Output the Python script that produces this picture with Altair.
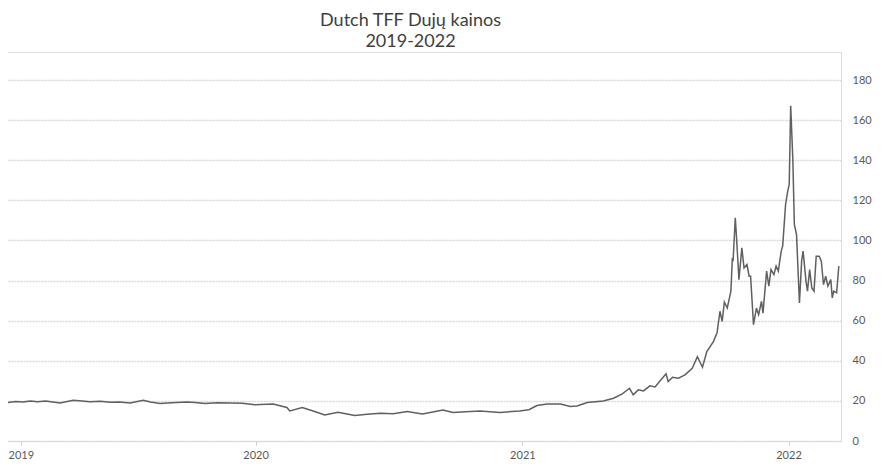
import altair as alt
import pandas as pd

# Dutch TTF gas price (EUR/MWh)
dates = [
    "2019-01-23", "2019-02-06", "2019-02-16", "2019-02-26", "2019-03-08", "2019-03-19",
    "2019-03-29", "2019-04-08", "2019-04-26", "2019-05-08", "2019-05-19", "2019-06-02",
    "2019-06-16", "2019-06-28", "2019-07-13", "2019-07-31", "2019-08-10", "2019-08-23",
    "2019-09-08", "2019-09-29", "2019-10-10", "2019-10-24", "2019-11-10", "2019-11-27",
    "2019-12-14", "2019-12-31", "2020-01-25", "2020-02-13", "2020-02-17", "2020-03-05",
    "2020-03-20", "2020-04-05", "2020-04-23", "2020-05-16", "2020-06-02", "2020-06-20",
    "2020-07-08", "2020-07-27", "2020-08-17", "2020-09-14", "2020-09-28", "2020-10-15",
    "2020-11-04", "2020-12-01", "2020-12-28", "2021-01-10", "2021-01-21", "2021-02-04",
    "2021-02-22", "2021-03-08", "2021-03-17", "2021-03-31", "2021-04-22", "2021-05-06",
    "2021-05-18", "2021-05-28", "2021-06-02", "2021-06-09", "2021-06-16", "2021-06-25",
    "2021-07-02", "2021-07-09", "2021-07-17", "2021-07-20", "2021-07-26", "2021-08-03",
    "2021-08-12", "2021-08-22", "2021-08-29", "2021-09-05", "2021-09-11", "2021-09-20",
    "2021-09-25", "2021-09-29", "2021-10-02", "2021-10-05", "2021-10-09", "2021-10-14",
    "2021-10-16", "2021-10-17", "2021-10-20", "2021-10-22", "2021-10-25", "2021-10-29",
    "2021-11-01", "2021-11-05", "2021-11-08", "2021-11-10", "2021-11-14", "2021-11-18",
    "2021-11-21", "2021-11-25", "2021-11-27", "2021-12-02", "2021-12-05", "2021-12-08",
    "2021-12-12", "2021-12-15", "2021-12-18", "2021-12-22", "2021-12-24", "2021-12-28",
    "2021-12-31", "2022-01-02", "2022-01-04", "2022-01-07", "2022-01-09", "2022-01-12",
    "2022-01-16", "2022-01-19", "2022-01-21", "2022-01-25", "2022-01-27", "2022-01-30",
    "2022-02-02", "2022-02-05", "2022-02-08", "2022-02-12", "2022-02-15", "2022-02-18",
    "2022-02-21", "2022-02-24", "2022-02-28", "2022-03-02", "2022-03-04", "2022-03-08",
    "2022-03-11",
]
prices = [
    19.0, 19.7, 19.4, 19.9, 19.6, 20.0,
    19.5, 19.0, 20.3, 19.9, 19.6, 19.8,
    19.3, 19.5, 19.0, 20.3, 19.4, 18.7,
    19.1, 19.5, 19.2, 18.7, 19.1, 19.0,
    18.8, 18.1, 18.5, 16.7, 15.0, 16.7,
    15.0, 13.0, 14.3, 12.7, 13.4, 13.8,
    13.6, 14.7, 13.5, 15.5, 14.2, 14.6,
    15.0, 14.2, 15.0, 15.6, 17.7, 18.4,
    18.5, 17.2, 17.5, 19.2, 20.0, 21.3,
    23.5, 26.3, 23.0, 25.5, 25.0, 27.5,
    27.0, 30.0, 33.5, 29.6, 31.8, 31.3,
    33.0, 36.3, 42.0, 36.8, 44.6, 49.6,
    54.0, 64.7, 59.7, 69.3, 66.3, 74.7,
    91.3, 89.7, 111.3, 99.7, 80.5, 96.3,
    86.3, 88.0, 82.2, 82.2, 58.0, 66.3,
    63.0, 69.7, 63.8, 84.7, 77.2, 85.5,
    83.0, 87.2, 84.7, 94.7, 97.2, 118.0,
    124.7, 128.0, 167.2, 139.7, 108.0, 103.0,
    68.8, 89.7, 94.7, 79.7, 74.7, 85.5,
    76.3, 74.7, 92.2, 92.2, 89.7, 78.0,
    82.2, 77.2, 80.5, 71.4, 74.7, 73.9,
    87.2,
]
y_ticks = [0, 20, 40, 60, 80, 100, 120, 140, 160, 180]
title_lines = ["Dutch TFF Dujų kainos", "2019-2022"]

df = pd.DataFrame({"date": dates, "price": prices})

FONT = "Lato"

x_axis = alt.Axis(
    values=[
        alt.DateTime(year=2019, month=2, date=13, utc=True),
        alt.DateTime(year=2020, month=1, date=1, utc=True),
        alt.DateTime(year=2021, month=1, date=1, utc=True),
        alt.DateTime(year=2022, month=1, date=1, utc=True),
    ],
    labelExpr="utcFormat(datum.value, '%Y')",
    title=None,
    grid=False,
    domain=False,
    ticks=True,
    tickSize=4,
    tickColor="#d0d0d0",
    labelPadding=4,
    labelFont=FONT,
    labelFontSize=11,
    labelColor="#595959",
)

y_axis = alt.Axis(
    orient="right",
    values=y_ticks,
    title=None,
    domain=False,
    ticks=False,
    labelPadding=11,
    labelFont=FONT,
    labelFontSize=11,
    labelColor="#595959",
    gridColor="#d9d9d9",
    gridWidth=1.5,
    gridDash=[2, 1],
)

chart = (
    alt.Chart(df)
    .mark_line(color="#606060", strokeWidth=1.5)
    .encode(
        x=alt.X(
            "date:T",
            scale=alt.Scale(
                type="utc",
                domain=[
                    alt.DateTime(year=2019, month=1, date=21, utc=True),
                    alt.DateTime(year=2022, month=3, date=14, utc=True),
                ],
            ),
            axis=x_axis,
        ),
        y=alt.Y("price:Q", scale=alt.Scale(domain=[0, 194], nice=False), axis=y_axis),
    )
    .properties(
        width=837,
        height=389,
        title=alt.TitleParams(
            text=title_lines,
            font=FONT,
            fontSize=18,
            fontWeight="normal",
            color="#404040",
            anchor="middle",
            dx=-12,
            offset=1,
            lineHeight=21,
        ),
        autosize=alt.AutoSizeParams(type="none"),
        padding={"left": -4, "top": 44, "right": 36, "bottom": 20},
    )
    .configure_view(stroke="#d9d9d9", strokeDash=[2, 1], strokeWidth=1.5)
    .configure(background="white")
)

chart.save("out.html", embed_options={"renderer": "svg", "actions": False})
